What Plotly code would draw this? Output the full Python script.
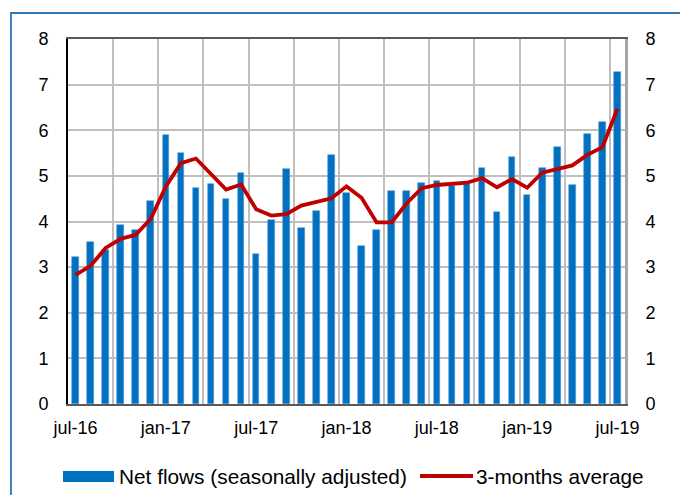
import numpy as np
import plotly.graph_objects as go

months = ["jul-16", "aug-16", "sep-16", "oct-16", "nov-16", "dec-16",
          "jan-17", "feb-17", "mar-17", "apr-17", "may-17", "jun-17",
          "jul-17", "aug-17", "sep-17", "oct-17", "nov-17", "dec-17",
          "jan-18", "feb-18", "mar-18", "apr-18", "may-18", "jun-18",
          "jul-18", "aug-18", "sep-18", "oct-18", "nov-18", "dec-18",
          "jan-19", "feb-19", "mar-19", "apr-19", "may-19", "jun-19",
          "jul-19"]

net_flows = [3.22, 3.56, 3.38, 3.93, 3.82, 4.44, 5.89, 5.50, 4.74, 4.83, 4.49, 5.06,
             3.28, 4.04, 5.14, 3.86, 4.23, 5.46, 4.63, 3.47, 3.81, 4.67, 4.67, 4.85,
             4.88, 4.77, 4.82, 5.18, 4.20, 5.42, 4.59, 5.18, 5.64, 4.81, 5.92, 6.18,
             7.27]

avg_3m = [2.83, 3.03, 3.42, 3.62, 3.71, 4.06, 4.77, 5.28, 5.38, 5.03, 4.70, 4.81,
          4.27, 4.13, 4.16, 4.35, 4.42, 4.51, 4.77, 4.52, 3.98, 3.98, 4.40, 4.73,
          4.80, 4.83, 4.85, 4.95, 4.75, 4.93, 4.74, 5.07, 5.15, 5.23, 5.46, 5.63,
          6.47]

y_ticks = [0, 1, 2, 3, 4, 5, 6, 7, 8]

x = np.arange(len(months))
label_idx = x[::6]
label_text = [months[i] for i in label_idx]
grid_pos = np.arange(2.5, len(months) - 1, 3)

FONT = "Arial, 'Liberation Sans', sans-serif"
BLUE = "#0070C0"
RED = "#C00000"
GRID = "#BFBFBF"

fig = go.Figure()
fig.add_trace(go.Bar(x=x, y=net_flows, name="Net flows (seasonally adjusted)",
                     marker=dict(color=BLUE, line=dict(color="#5B9BD5", width=0.6)),
                     width=0.44, showlegend=False))
fig.add_trace(go.Scatter(x=x, y=avg_3m, name="3-months average", mode="lines",
                         line=dict(color=RED, width=3.8), yaxis="y2", showlegend=False))

fig.update_layout(
    width=680, height=495,
    margin=dict(l=68, r=55, t=39, b=91),
    paper_bgcolor="white", plot_bgcolor="white",
    font=dict(family=FONT, size=18, color="black"),
    xaxis=dict(range=[-0.5, len(months) - 0.5], tickvals=label_idx, ticktext=label_text,
               showgrid=False, zeroline=False, ticks="", ticklabelstandoff=6,
               showline=True, mirror=True, linecolor="#595959", linewidth=2,
               minor=dict(tickvals=grid_pos, showgrid=True, gridcolor=GRID, gridwidth=1.8, ticks="")),
    yaxis=dict(range=[0, 8], tickvals=y_ticks, showgrid=True, gridcolor=GRID, gridwidth=1.8,
               zeroline=False, ticks="", ticklabelstandoff=14,
               showline=True, linecolor="black", linewidth=2),
    yaxis2=dict(range=[0, 8], tickvals=y_ticks, overlaying="y", side="right",
                showgrid=False, zeroline=False, ticks="", ticklabelstandoff=14,
                showline=True, linecolor="#A6A6A6", linewidth=3),
    bargap=0,
)

# outer frame
fig.add_shape(type="rect", xref="paper", yref="paper",
              x0=(11 - 68) / 557, x1=1.2, y0=-0.4, y1=(404 - 13) / 365,
              line=dict(color="#2E75B6", width=1.8), fillcolor="rgba(0,0,0,0)", layer="below")

# legend
LFS = 20.8
ly = (404 - 476) / 365
fig.add_shape(type="rect", xref="paper", yref="paper",
              x0=(63 - 68) / 557, x1=(114 - 68) / 557,
              y0=(404 - 482) / 365, y1=(404 - 471) / 365,
              line=dict(width=0), fillcolor=BLUE)
fig.add_annotation(xref="paper", yref="paper", x=(117 - 68) / 557, y=ly,
                   text="Net flows (seasonally adjusted)", showarrow=False,
                   xanchor="left", yanchor="middle", font=dict(family=FONT, size=LFS))
fig.add_shape(type="line", xref="paper", yref="paper",
              x0=(420 - 68) / 557, x1=(473 - 68) / 557, y0=ly, y1=ly,
              line=dict(color=RED, width=4))
fig.add_annotation(xref="paper", yref="paper", x=(474 - 68) / 557, y=ly,
                   text="3-months average", showarrow=False,
                   xanchor="left", yanchor="middle", font=dict(family=FONT, size=LFS))

fig.write_html("out.html", post_script="document.body.style.margin='0';",
               config={"displayModeBar": False})
